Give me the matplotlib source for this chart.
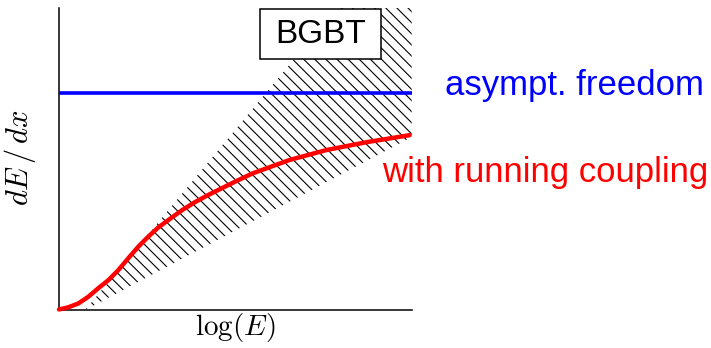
import matplotlib.pyplot as plt
from matplotlib.patches import Rectangle

# red curve "with running coupling" (axis units 0..1)
run_x = [0.0, 0.026, 0.055, 0.083, 0.111, 0.140, 0.168, 0.196, 0.225, 0.253, 0.281,
         0.310, 0.348, 0.385, 0.423, 0.461, 0.508, 0.550, 0.654, 0.759, 0.873, 0.994]
run_y = [0.002, 0.009, 0.022, 0.044, 0.072, 0.099, 0.132, 0.171, 0.210, 0.243, 0.273,
         0.298, 0.330, 0.357, 0.381, 0.403, 0.430, 0.453, 0.497, 0.530, 0.556, 0.579]

# blue line "asympt. freedom"
af_level = 0.718

# hatched BGBT band: two straight edges
band_x = [0.074, 1.0]
band_lo = [0.0, 0.573]
band_hi = [0.0, 1.298]

plt.rcParams['font.family'] = ['Liberation Sans', 'DejaVu Sans']
plt.rcParams['mathtext.fontset'] = 'cm'
plt.rcParams['hatch.linewidth'] = 0.8

fig = plt.figure(figsize=(7.11, 3.48), dpi=100)
ax = fig.add_axes([0.083, 0.109, 0.496, 0.868])
ax.set_xlim(0, 1)
ax.set_ylim(0, 1)

ax.fill_between(band_x, band_lo, band_hi, facecolor='none', edgecolor='black',
                hatch='\\\\\\', linewidth=0, zorder=1)
ax.axhline(af_level, color='#0000ff', lw=2.6, zorder=3)
ax.plot(run_x, run_y, color='#ff0000', lw=3.2, solid_joinstyle='round',
        solid_capstyle='round', zorder=4, clip_on=False)

# BGBT label box
ax.add_patch(Rectangle((0.569, 0.831), 0.343, 0.166, facecolor='white',
                       edgecolor='black', lw=1.1, zorder=5))
ax.text(0.741, 0.912, 'BGBT', fontsize=24, ha='center', va='center', zorder=6)

for s in ['top', 'right']:
    ax.spines[s].set_visible(False)
for s in ['left', 'bottom']:
    ax.spines[s].set_linewidth(1.1)
ax.set_xticks([])
ax.set_yticks([])

fig.text(0.626, 0.727, 'asympt. freedom', color='#0000ff', fontsize=25, va='baseline')
fig.text(0.537, 0.477, 'with running coupling', color='#ff0000', fontsize=25, va='baseline')
fig.text(0.028, 0.546, r'$dE\,/\,dx$', fontsize=22, rotation=90, ha='center', va='center')
fig.text(0.331, 0.06, r'$\log(E)$', fontsize=21, ha='center', va='center')

fig.savefig('out.png', dpi=100)
